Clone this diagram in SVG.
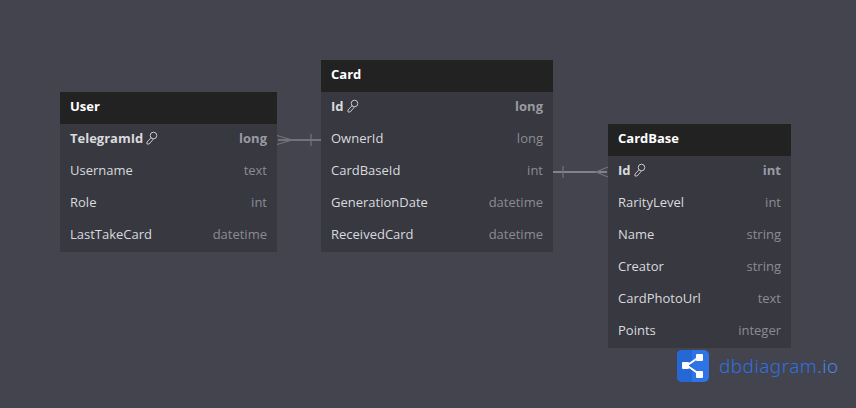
<svg xmlns="http://www.w3.org/2000/svg" width="856" height="408" viewBox="0 0 856 408">
<defs>
<style>
text{font-family:"Open Sans","Noto Sans",sans-serif;font-size:13px}
.body{fill:#373840}.head{fill:#222222}
.h{fill:#fff;font-weight:700}
.n{fill:#d9dade}
.b{fill:#d9dade;font-weight:700}
.t{fill:#8b8c92;text-anchor:end}
.tb{fill:#9a9ba1;text-anchor:end;font-weight:700}
.c{fill:none;stroke:#72727c;stroke-width:2}
.c2{fill:none;stroke:#82828c;stroke-width:2}
.f{fill:none;stroke:#72727c;stroke-width:1.200}
.k{fill:none;stroke:#d4d5d9;stroke-width:.9}
</style>
<g id="key"><circle cx="7.500" cy="-3.500" r="3.300" class="k"/><path d="M5.200 -1.400 L1 3 L1 5 L3.200 5 L7.600 -.2" class="k"/></g>
</defs>
<rect width="856" height="408" fill="#43444d"/>
<g id="connectors">
<path class="c" d="M278 140H321"/>
<path class="f" d="M311 134V146M277 135.500L292 140L277 144.500"/>
<path class="c2" d="M553 172H607"/>
<path class="f" d="M563 166V178M608 167L596 172L608 177"/>
</g>
<g id="node-user">
<rect class="body" x="60" y="92" width="217" height="160"/>
<rect class="head" x="60" y="92" width="217" height="32"/>
<text class="h" x="70" y="111">User</text>
<text class="b" x="70" y="143">TelegramId</text><use href="#key" x="146" y="139"/><text class="tb" x="267" y="143">long</text>
<text class="n" x="70" y="175">Username</text><text class="t" x="267" y="175">text</text>
<text class="n" x="70" y="207">Role</text><text class="t" x="267" y="207">int</text>
<text class="n" x="70" y="239">LastTakeCard</text><text class="t" x="267" y="239">datetime</text>
</g>
<g id="node-card">
<rect class="body" x="321" y="60" width="232" height="192"/>
<rect class="head" x="321" y="60" width="232" height="32"/>
<text class="h" x="331" y="79">Card</text>
<text class="b" x="331" y="111">Id</text><use href="#key" x="347" y="107"/><text class="tb" x="543" y="111">long</text>
<text class="n" x="331" y="143">OwnerId</text><text class="t" x="543" y="143">long</text>
<text class="n" x="331" y="175">CardBaseId</text><text class="t" x="543" y="175">int</text>
<text class="n" x="331" y="207">GenerationDate</text><text class="t" x="543" y="207">datetime</text>
<text class="n" x="331" y="239">ReceivedCard</text><text class="t" x="543" y="239">datetime</text>
</g>
<g id="node-cardbase">
<rect class="body" x="608" y="124" width="183" height="224"/>
<rect class="head" x="608" y="124" width="183" height="32"/>
<text class="h" x="618" y="143">CardBase</text>
<text class="b" x="618" y="175">Id</text><use href="#key" x="634" y="171"/><text class="tb" x="781" y="175">int</text>
<text class="n" x="618" y="207">RarityLevel</text><text class="t" x="781" y="207">int</text>
<text class="n" x="618" y="239">Name</text><text class="t" x="781" y="239">string</text>
<text class="n" x="618" y="271">Creator</text><text class="t" x="781" y="271">string</text>
<text class="n" x="618" y="303">CardPhotoUrl</text><text class="t" x="781" y="303">text</text>
<text class="n" x="618" y="335">Points</text><text class="t" x="781" y="335">integer</text>
</g>
<g id="logo">
<rect x="677" y="350" width="32" height="32" rx="5" fill="#2f74e6"/>
<path d="M692 350H682a5 5 0 0 0-5 5V377a5 5 0 0 0 5 5H692Z" fill="#2667d6"/>
<path d="M687 365.500L699 357M687 365.500L699 374" stroke="#fff" stroke-width="2" fill="none"/>
<rect x="682" y="362" width="7" height="7" rx="1" fill="#fff"/><rect x="696" y="354" width="7" height="7" rx="1" fill="#fff"/><rect x="696" y="371" width="7" height="7" rx="1" fill="#fff"/>
<text x="719" y="373" style="font-size:19px;font-weight:300;letter-spacing:.42px;font-family:'Noto Sans',sans-serif" fill="#2e70e0">dbdiagram<tspan fill="#4488ee">.io</tspan></text>
</g>
</svg>
